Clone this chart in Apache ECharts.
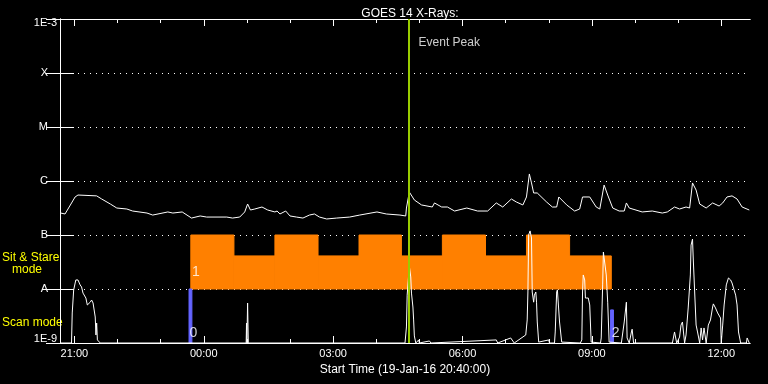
<!DOCTYPE html>
<html><head><meta charset="utf-8">
<script src="https://cdn.jsdelivr.net/npm/echarts@6/dist/echarts.min.js"></script>
<style>html,body{margin:0;padding:0;background:#000;}#c{width:768px;height:384px;}</style>
</head><body><div id="c"></div>
<script>
// time in minutes after start (19-Jan-16 20:40:00)
const xMajorTicks = [20, 200, 380, 560, 740, 920];
const xTickLabels = ['21:00', '00:00', '03:00', '06:00', '09:00', '12:00'];
const xMinorTicks = [20, 80, 140, 200, 260, 320, 380, 440, 500, 560, 620, 680, 740, 800, 860, 920];
const yTickLabels = ['1E-9', 'A', 'B', 'C', 'M', 'X', '1E-3'];

// long channel (1-8 A) [minutes, flux W/m^2]
const longChannel = [[1,2.55e-7],[7,2.45e-7],[21,5.06e-7],[25,5.5e-7],[51,5.3e-7],[58,4.64e-7],[70,3.75e-7],[79,3.16e-7],[93,3.03e-7],[101,2.78e-7],[121,2.55e-7],[129,2.34e-7],[150,2.67e-7],[157,2.55e-7],[170,2.67e-7],[183,2.06e-7],[195,2.25e-7],[204,2.15e-7],[232,2.15e-7],[240,2.06e-7],[250,2.15e-7],[257,2.67e-7],[261,3.75e-7],[265,2.9e-7],[271,3.03e-7],[281,3.3e-7],[289,2.9e-7],[299,2.67e-7],[302,2.78e-7],[306,2.45e-7],[314,2.78e-7],[320,2.25e-7],[329,2.15e-7],[338,2.06e-7],[347,2.34e-7],[354,2.45e-7],[361,2.15e-7],[371,1.98e-7],[385,2.06e-7],[403,2.15e-7],[417,2.34e-7],[441,2.67e-7],[454,2.45e-7],[473,2.34e-7],[481,2.25e-7],[482,3.16e-7],[486,6.25e-7],[493,4.45e-7],[503,3.6e-7],[518,3.3e-7],[521,3.92e-7],[531,3.3e-7],[539,3.3e-7],[549,2.78e-7],[566,3.16e-7],[581,2.78e-7],[595,2.78e-7],[607,3.92e-7],[616,3.3e-7],[628,4.64e-7],[635,4.08e-7],[644,3.6e-7],[649,5.06e-7],[653,1.35e-6],[656,9.2e-7],[659,6.0e-7],[664,6.0e-7],[677,4.08e-7],[685,3.3e-7],[691,3.3e-7],[694,5.06e-7],[705,3.6e-7],[716,2.78e-7],[723,3.03e-7],[727,5.06e-7],[737,5.06e-7],[746,3.3e-7],[751,3.03e-7],[757,8.4e-7],[762,5.5e-7],[769,3.16e-7],[778,2.78e-7],[785,2.78e-7],[788,3.92e-7],[792,3.16e-7],[810,2.67e-7],[824,2.78e-7],[838,2.55e-7],[845,2.67e-7],[855,3.3e-7],[862,3.03e-7],[871,3.3e-7],[876,3.16e-7],[880,9.2e-7],[885,6.8e-7],[890,3.75e-7],[899,3.16e-7],[908,3.92e-7],[917,3.44e-7],[922,3.92e-7],[928,5.06e-7],[935,5.3e-7],[942,4.64e-7],[949,3.3e-7],[959,2.9e-7]];

// short channel (0.5-4 A) [minutes, flux W/m^2]
const shortChannel = [[0,1e-9],[16,1e-9],[17,3.6e-9],[19,9.6e-9],[22,1.47e-8],[25,1.47e-8],[28,1.19e-8],[30,1.09e-8],[32,8.4e-9],[36,6.8e-9],[38,5.06e-9],[42,5.7e-9],[44,6.25e-9],[46,5.5e-9],[49,3.03e-9],[50,1.41e-9],[51,2.34e-9],[52,1.14e-9],[56,1e-9],[259,1e-9],[259.5,2.34e-9],[260,1e-9],[261,5.5e-9],[262,1e-9],[480,1e-9],[482,1.98e-9],[483,7.7e-9],[486,2.67e-8],[488,1.67e-8],[489,8.4e-9],[491,4.64e-9],[492,2.67e-9],[493,1.35e-9],[495,1e-9],[499,1.14e-9],[500,1e-9],[514,1.09e-9],[516,1e-9],[607,1.14e-9],[609,1e-9],[627,1.24e-9],[629,1.14e-9],[632,1e-9],[648,1.41e-9],[650,2.67e-9],[651,8.8e-9],[652,1e-7],[654,1.19e-7],[656,8.8e-8],[657,8.8e-9],[659,5.7e-9],[660,7.7e-9],[662,8.8e-9],[663,5.7e-9],[664,2.45e-9],[666,1.04e-9],[667,1e-9],[680,1.14e-9],[681,1e-9],[688,1e-9],[689,1.6e-9],[691,8.8e-9],[692,9.6e-9],[695,2.45e-9],[698,1.04e-9],[699,1e-9],[724,1e-9],[726,1.14e-9],[727,8.8e-9],[728,1.82e-8],[730,1.47e-8],[731,6.8e-9],[732,6.25e-9],[735,6.8e-9],[737,5.06e-9],[739,1.04e-9],[741,1e-9],[752,1e-9],[753,1.24e-9],[755,1.19e-8],[756,4.84e-8],[758,4.64e-8],[760,1.82e-8],[762,5.7e-9],[764,1.04e-9],[766,1e-9],[781,1e-9],[782,1.24e-9],[785,2.45e-9],[788,5.7e-9],[789,1.24e-9],[792,1e-9],[795,1.6e-9],[796,1.8e-9],[798,1e-9],[852,1e-9],[855,1.6e-9],[858,1e-9],[862,1.29e-9],[864,2.15e-9],[866,2.45e-9],[869,1e-9],[871,1.41e-9],[874,4.45e-9],[877,1.82e-8],[878,6.5e-8],[880,8.4e-8],[881,3.75e-8],[883,8.8e-9],[885,2.15e-9],[887,1.6e-9],[890,1e-9],[892,1.9e-9],[894,1.14e-9],[896,1.9e-9],[899,1e-9],[902,2.15e-9],[905,2.67e-9],[908,4.64e-9],[909,5.3e-9],[912,4.45e-9],[915,3.6e-9],[916,3.75e-9],[919,2.9e-9],[920,1e-9],[922,2.15e-9],[924,5.06e-9],[927,1.19e-8],[930,1.6e-8],[933,1.47e-8],[935,1.29e-8],[940,7.7e-9],[942,5.06e-9],[944,1.6e-9],[947,1e-9],[955,1e-9],[956,1.24e-9],[959,1e-9]];

// Sit & Stare mode blocks
const sitStareStart = [182, 242, 299, 359, 416, 475, 532, 592, 649, 709];
const sitStareEnd   = [242, 299, 359, 416, 475, 532, 592, 649, 709, 767];
const sitStareTop   = [1e-7, 4.1e-8, 1e-7, 4.1e-8, 1e-7, 4.1e-8, 1e-7, 4.1e-8, 1e-7, 4.1e-8];
const sitStareBottom = 1e-8;
// Scan mode markers
const scanStart = [179.5, 766];
const scanEnd   = [183.5, 770];
const scanTop   = [1e-8, 4.1e-9];
const scanBottom = 1e-9;
// mode number labels
const modeLabelText = ['0', '1', '2'];
const modeLabelT    = [185.5, 189, 773];
const modeLabelV    = [1.53e-9, 2.06e-8, 1.53e-9];
// event peak
const eventPeakT = 485;
const eventPeakLabelV = 3.6e-4;

const FONT = "'Liberation Sans', Arial, sans-serif";
const blocksData = sitStareStart.map((s, i) => [s, sitStareEnd[i], sitStareBottom, sitStareTop[i]]);
const scanData = scanStart.map((s, i) => [s, scanEnd[i], scanBottom, scanTop[i]]);
const modeLabelData = modeLabelT.map((t, i) => ({value: [t, modeLabelV[i]], name: modeLabelText[i]}));

function rectRenderer(color) {
  return function (params, api) {
    const p1 = api.coord([api.value(0), api.value(3)]);
    const p2 = api.coord([api.value(1), api.value(2)]);
    return {type: 'rect', shape: {x: p1[0], y: p1[1], width: p2[0] - p1[0], height: p2[1] - p1[1]},
      style: {fill: color, stroke: color, lineWidth: 1}};
  };
}

function xAxisCfg(pos, ticks, len, labels) {
  return {
    type: 'value', min: 0, max: 960, position: pos,
    axisLine: {show: true, lineStyle: {color: '#fff', width: 1}},
    axisTick: {show: true, inside: true, length: len, customValues: ticks, lineStyle: {color: '#fff', width: 1}},
    axisLabel: labels ? {show: true, customValues: xMajorTicks, color: '#fff', fontFamily: FONT, fontSize: 11, margin: 5,
      formatter: v => xTickLabels[xMajorTicks.indexOf(Math.round(v))] || ''} : {show: false},
    splitLine: {show: false}
  };
}

function yLabel(v) {
  const k = Math.round(Math.log10(v)) + 9;
  const t = yTickLabels[k];
  if (k === 0) return '{lo|' + t + '}';
  if (k === 6) return '{hi|' + t + '}';
  return '{l|' + t + '}';
}

const chart = echarts.init(document.getElementById('c'), null, {renderer: 'canvas'});
chart.setOption({
  backgroundColor: '#000',
  animation: false,
  title: {text: 'GOES 14 X-Rays:', left: 405, textAlign: 'center', top: 3,
    textStyle: {color: '#fff', fontSize: 12, fontWeight: 'normal', fontFamily: FONT}},
  grid: {left: 60, right: 18, top: 19, bottom: 41, containLabel: false},
  xAxis: [
    Object.assign(xAxisCfg('bottom', xMajorTicks, 7, true), {
      name: 'Start Time (19-Jan-16 20:40:00)', nameLocation: 'middle', nameGap: 19,
      nameTextStyle: {color: '#fff', fontSize: 12, fontFamily: FONT}}),
    xAxisCfg('bottom', xMinorTicks, 4, false),
    xAxisCfg('top', xMajorTicks, 7, false),
    xAxisCfg('top', xMinorTicks, 4, false)
  ],
  yAxis: [
    {type: 'log', logBase: 10, min: 1e-9, max: 1e-3, position: 'left',
      axisLine: {show: true, lineStyle: {color: '#fff'}},
      axisTick: {show: true, inside: true, length: 14, lineStyle: {color: '#fff'}},
      axisLabel: {color: '#fff', fontFamily: FONT, fontSize: 11, margin: 3, formatter: yLabel,
        rich: {l: {padding: [0, 9, 0, 0], fontSize: 11, color: '#fff', fontFamily: FONT},
               lo: {padding: [0, 0, 8, 0], fontSize: 11, color: '#fff', fontFamily: FONT},
               hi: {padding: [8, 0, 0, 0], fontSize: 11, color: '#fff', fontFamily: FONT}}},
      splitLine: {show: true, lineStyle: {color: '#fff', width: 1, type: [1, 5]}}},
    {type: 'log', logBase: 10, min: 1e-9, max: 1e-3, position: 'right',
      axisLine: {show: true, lineStyle: {color: '#fff'}},
      axisTick: {show: true, inside: true, length: 14, lineStyle: {color: '#fff'}},
      axisLabel: {show: false}, splitLine: {show: false}}
  ],
  graphic: [
    {type: 'text', left: 2, top: 252, style: {text: 'Sit & Stare', fill: '#ffff00', font: '12px ' + FONT}},
    {type: 'text', left: 12, top: 264, style: {text: 'mode', fill: '#ffff00', font: '12px ' + FONT}},
    {type: 'text', left: 2, top: 317, style: {text: 'Scan mode', fill: '#ffff00', font: '12px ' + FONT}}
  ],
  series: [
    {type: 'custom', name: 'Sit & Stare', renderItem: rectRenderer('#ff8000'), data: blocksData,
      encode: {x: [0, 1], y: [2, 3]}, z: 1, clip: true},
    {type: 'custom', name: 'Scan', renderItem: rectRenderer('#6464ff'), data: scanData,
      encode: {x: [0, 1], y: [2, 3]}, z: 1, clip: true},
    {type: 'line', name: 'long', data: longChannel, showSymbol: false, symbol: 'none',
      lineStyle: {color: '#fff', width: 1}, z: 3, clip: true},
    {type: 'line', name: 'short', data: shortChannel, showSymbol: false, symbol: 'none',
      lineStyle: {color: '#fff', width: 1}, z: 3, clip: true},
    {type: 'scatter', name: 'modes', data: modeLabelData, symbolSize: 0, z: 4,
      label: {show: true, position: 'inside', formatter: p => p.name, color: '#fff', fontSize: 14, fontFamily: FONT}},
    {type: 'scatter', name: 'event', data: [[eventPeakT, eventPeakLabelV]], symbolSize: 0, z: 5,
      label: {show: true, position: 'right', distance: 10, formatter: 'Event Peak', color: '#fff', fontSize: 12, fontFamily: FONT},
      markLine: {silent: true, symbol: 'none', label: {show: false},
        lineStyle: {color: '#99cc00', width: 2, type: 'solid'}, data: [{xAxis: eventPeakT}]}}
  ]
});
</script>
</body></html>
